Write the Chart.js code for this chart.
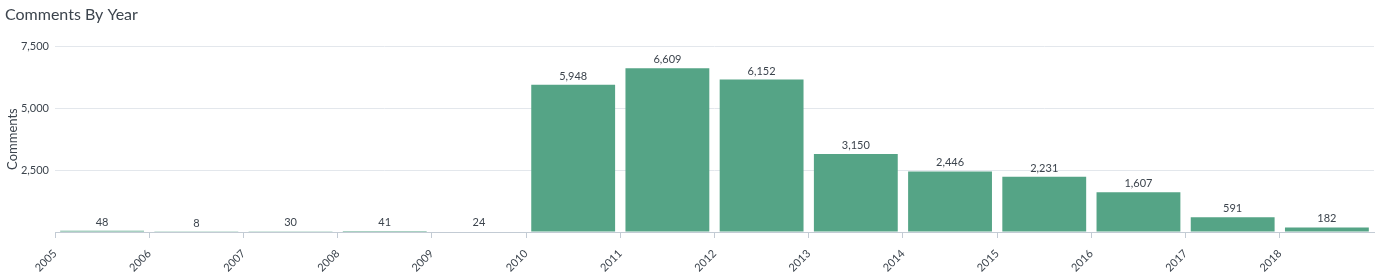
<!DOCTYPE html>
<html>
<head>
<meta charset="utf-8">
<title>Comments By Year</title>
<script src="https://cdn.jsdelivr.net/npm/chart.js@4/dist/chart.umd.min.js"></script>
<style>
    html, body { margin: 0; padding: 0; background: #fff; }
    #wrap { width: 1381px; height: 277px; }
</style>
</head>
<body>
<div id="wrap"><canvas id="comments-chart" width="1381" height="277"></canvas></div>
<script>
const years = [2005, 2006, 2007, 2008, 2009, 2010, 2011, 2012, 2013, 2014, 2015, 2016, 2017, 2018];
const comments = [48, 8, 30, 41, 24, 5948, 6609, 6152, 3150, 2446, 2231, 1607, 591, 182];
const yTicks = [2500, 5000, 7500];

const TEXT = '#3c444d';
const FONT = 'Lato, "Open Sans", sans-serif';

// value labels above each bar
const barLabels = {
    id: 'barLabels',
    afterDatasetsDraw(chart) {
        const ctx = chart.ctx;
        const meta = chart.getDatasetMeta(0);
        ctx.save();
        ctx.font = `11px ${FONT}`;
        ctx.fillStyle = TEXT;
        ctx.textAlign = 'center';
        ctx.textBaseline = 'alphabetic';
        meta.data.forEach((bar, i) => {
            ctx.fillText(comments[i].toLocaleString('en-US'), bar.x, bar.y - 5);
        });
        ctx.restore();
    }
};

const points = years.map((yr, i) => ({ x: yr + 0.5, y: comments[i] }));

new Chart(document.getElementById('comments-chart'), {
    type: 'bar',
    data: {
        datasets: [{
            label: 'Comments',
            data: points,
            backgroundColor: '#55a486',
            barPercentage: 1,
            categoryPercentage: 0.89
        }]
    },
    options: {
        responsive: false,
        animation: false,
        layout: { padding: { top: 0, left: 5, right: 7, bottom: 0 } },
        plugins: {
            legend: { display: false },
            tooltip: { enabled: false },
            title: {
                display: true,
                text: 'Comments By Year',
                align: 'start',
                color: TEXT,
                font: { family: FONT, size: 16, weight: 'normal' },
                padding: { top: 5, bottom: 22 }
            }
        },
        scales: {
            x: {
                type: 'linear',
                offset: false,
                z: 1,
                min: years[0],
                max: years[years.length - 1] + 1,
                afterFit(s) {
                    s.height = 45;
                    s.paddingLeft = 0;
                    s.paddingRight = 0;
                },
                grid: {
                    offset: false,
                    drawOnChartArea: false,
                    drawTicks: true,
                    tickLength: 6,
                    tickColor: c => (c.tick && c.tick.value > years[years.length - 1]) ? 'rgba(0,0,0,0)' : '#c3cbd4'
                },
                border: { display: true, color: '#c3cbd4', width: 1 },
                ticks: {
                    stepSize: 1,
                    autoSkip: false,
                    minRotation: 45,
                    maxRotation: 45,
                    color: TEXT,
                    font: { family: FONT, size: 11 },
                    padding: 9,
                    callback: v => (years.includes(v) ? String(v) : '')
                }
            },
            y: {
                min: 0,
                max: yTicks[yTicks.length - 1],
                afterFit(s) { s.width = 50; },
                afterBuildTicks(s) { s.ticks = [0, ...yTicks].map(v => ({ value: v })); },
                grid: { color: '#e3e7ec', drawTicks: false },
                border: { display: false },
                ticks: {
                    color: TEXT,
                    padding: 6,
                    font: { family: FONT, size: 11 },
                    callback: v => (v === 0 ? '' : v.toLocaleString('en-US'))
                },
                title: {
                    display: true,
                    text: 'Comments',
                    color: TEXT,
                    font: { family: FONT, size: 13 },
                    padding: { top: 0, bottom: 0 }
                }
            }
        }
    },
    plugins: [barLabels]
});
</script>
</body>
</html>
